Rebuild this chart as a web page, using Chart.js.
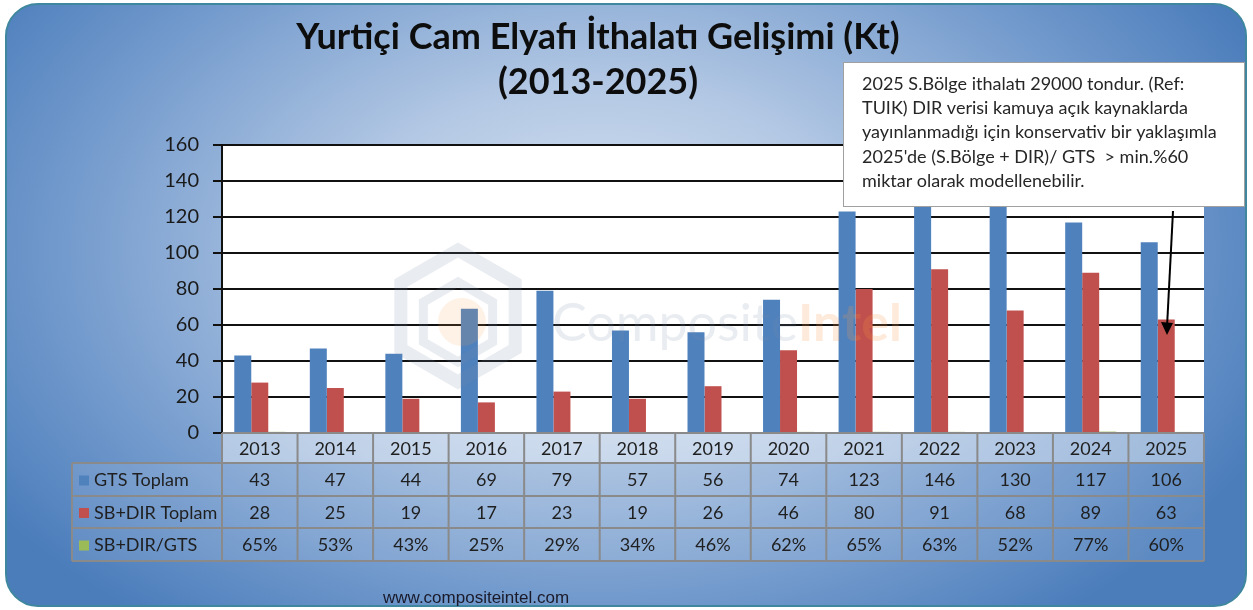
<!DOCTYPE html>
<html>
<head>
<meta charset="utf-8">
<script src="https://cdn.jsdelivr.net/npm/chart.js@4"></script>
<style>
  html, body { margin: 0; padding: 0; background: #fff; }
  canvas { display: block; }
</style>
</head>
<body>
<canvas id="chart" width="1253" height="610"></canvas>
<script>
const years = ['2013', '2014', '2015', '2016', '2017', '2018', '2019', '2020', '2021', '2022', '2023', '2024', '2025'];
const gtsTotal = [43, 47, 44, 69, 79, 57, 56, 74, 123, 146, 130, 117, 106];
const sbDirTotal = [28, 25, 19, 17, 23, 19, 26, 46, 80, 91, 68, 89, 63];
const ratioPct = [65, 53, 43, 25, 29, 34, 46, 62, 65, 63, 52, 77, 60];
const yTicks = [0, 20, 40, 60, 80, 100, 120, 140, 160];

const titleLines = ['Yurtiçi Cam Elyafı İthalatı Gelişimi (Kt)', '(2013-2025)'];
const noteLines = [
    '2025 S.Bölge ithalatı 29000 tondur. (Ref:',
    'TUIK) DIR verisi kamuya açık kaynaklarda',
    'yayınlanmadığı için konservativ bir yaklaşımla',
    "2025'de (S.Bölge + DIR)/ GTS  > min.%60",
    'miktar olarak modellenebilir.'
];
const footer = 'www.compositeintel.com';

const font = 'Lato, "Open Sans", sans-serif';
const colors = { gts: '#4f81bd', sb: '#c0504d', ratio: '#9bbb59' };

const roundRect = (c, x, y, w, h, r) => {
    c.beginPath();
    c.moveTo(x + r, y);
    c.arcTo(x + w, y, x + w, y + h, r);
    c.arcTo(x + w, y + h, x, y + h, r);
    c.arcTo(x, y + h, x, y, r);
    c.arcTo(x, y, x + w, y, r);
    c.closePath();
}

// blue panel + white plot area
const backdrop = {
    id: 'backdrop',
    beforeDraw(chart) {
        const c = chart.ctx;
        const a = chart.chartArea;
        c.save();
        roundRect(c, 6, 4, 1240, 602, 32);
        c.save();
        c.clip();
        c.translate(600, 250);
        c.scale(1.55, 1);
        const g = c.createRadialGradient(0, 0, 0, 0, 0, 470);
        g.addColorStop(0, '#d9e4f2');
        g.addColorStop(0.35, '#b3c8e4');
        g.addColorStop(0.75, '#7199cc');
        g.addColorStop(1, '#4b7dbb');
        c.fillStyle = g;
        c.fillRect(-700, -400, 1400, 800);
        c.restore();
        c.lineWidth = 2;
        c.strokeStyle = '#3f879e';
        c.stroke();
        c.fillStyle = '#fff';
        c.fillRect(a.left, a.top, a.right - a.left, a.bottom - a.top);
        c.restore();
    },
    afterDatasetsDraw(chart) {
        // faint watermark over the bars
        const c = chart.ctx;
        c.save();
        const hex = (cx, cy, r) => {
            c.beginPath();
            for (let i = 0; i < 6; i++) {
                const ang = Math.PI / 6 + i * Math.PI / 3;
                const px = cx + r * Math.cos(ang), py = cy + r * Math.sin(ang);
                i ? c.lineTo(px, py) : c.moveTo(px, py);
            }
            c.closePath();
        }
        c.strokeStyle = 'rgba(120,135,160,0.16)';
        c.lineWidth = 13;
        hex(458, 316, 66);
        c.stroke();
        c.lineWidth = 9;
        hex(458, 322, 40);
        c.stroke();
        c.fillStyle = 'rgba(250,160,80,0.14)';
        c.beginPath();
        c.arc(462, 322, 24, 0, Math.PI * 2);
        c.fill();
        c.font = `52px ${font}`;
        c.textBaseline = 'middle';
        c.fillStyle = 'rgba(120,135,160,0.16)';
        c.fillText('Composite', 552, 324);
        const w = c.measureText('Composite').width;
        c.font = `bold 52px ${font}`;
        c.fillStyle = 'rgba(250,150,70,0.2)';
        c.fillText('Intel', 552 + w, 324);
        c.restore();
    },
    afterDraw(chart) {
        const c = chart.ctx;
        const a = chart.chartArea;
        const x = chart.scales.x;
        const colW = (a.right - a.left) / years.length;
        const rows = [433, 463, 496, 528, 561];
        const tableLeft = 72;
        c.save();

        // cell shading
        c.fillStyle = 'rgba(255,255,255,0.42)';
        c.fillRect(a.left, rows[0], a.right - a.left, rows[1] - rows[0]);
        c.fillStyle = 'rgba(255,255,255,0.1)';
        c.fillRect(tableLeft, rows[1], a.right - tableLeft, rows[4] - rows[1]);

        // grid of the table
        c.strokeStyle = '#8a8a8a';
        c.lineWidth = 2;
        c.beginPath();
        for (let r = 1; r < rows.length; r++) {
            c.moveTo(tableLeft, rows[r]);
            c.lineTo(a.right, rows[r]);
        }
        c.moveTo(a.left, rows[0]);
        c.lineTo(a.right, rows[0]);
        c.moveTo(tableLeft, rows[1]);
        c.lineTo(tableLeft, rows[4]);
        for (let i = 0; i <= years.length; i++) {
            const px = a.left + i * colW;
            c.moveTo(px, rows[0]);
            c.lineTo(px, rows[4]);
        }
        c.stroke();

        // table text
        c.fillStyle = '#1f1f1f';
        c.font = `18px ${font}`;
        c.textAlign = 'center';
        c.textBaseline = 'middle';
        const table = [
            years,
            gtsTotal.map(String),
            sbDirTotal.map(String),
            ratioPct.map(v => v + '%')
        ];
        table.forEach((row, r) => {
            const cy = (rows[r] + rows[r + 1]) / 2 + 1;
            row.forEach((t, i) => c.fillText(t, x.getPixelForValue(i), cy));
        });

        // legend cells
        const legend = [
            ['GTS Toplam', colors.gts],
            ['SB+DIR Toplam', colors.sb],
            ['SB+DIR/GTS', colors.ratio]
        ];
        c.textAlign = 'left';
        c.font = `18px ${font}`;
        legend.forEach(([label, col], r) => {
            const cy = (rows[r + 1] + rows[r + 2]) / 2 + 1;
            c.fillStyle = col;
            c.fillRect(79, cy - 5, 10, 10);
            c.fillStyle = '#1f1f1f';
            c.fillText(label, 94, cy);
        });

        // title
        c.fillStyle = '#0d0d0d';
        c.textAlign = 'center';
        c.font = `bold 36px ${font}`;
        c.fillText(titleLines[0], 598, 37);
        c.fillText(titleLines[1], 598, 82);

        // note box
        c.fillStyle = '#fff';
        c.fillRect(843, 62, 402, 145);
        c.strokeStyle = '#a0a0a0';
        c.lineWidth = 1;
        c.strokeRect(843.5, 62.5, 401, 144);
        c.fillStyle = '#262626';
        c.textAlign = 'left';
        c.font = `18px ${font}`;
        noteLines.forEach((t, i) => c.fillText(t, 862, 84 + i * 24.3));

        // arrow to the 2025 SB+DIR bar
        const tipX = 1167, tipY = 335;
        c.strokeStyle = '#000';
        c.fillStyle = '#000';
        c.lineWidth = 2;
        c.beginPath();
        c.moveTo(1173, 211);
        c.lineTo(tipX, tipY - 8);
        c.stroke();
        c.beginPath();
        c.moveTo(tipX, tipY);
        c.lineTo(tipX - 6, tipY - 13);
        c.lineTo(tipX + 6, tipY - 12);
        c.closePath();
        c.fill();

        // footer
        c.fillStyle = '#1a1a2a';
        c.font = '17px "Liberation Sans", Arial, sans-serif';
        c.fillText(footer, 383, 598);
        c.restore();
    }
};

const ctx = document.getElementById('chart').getContext('2d');
const chart = new Chart(ctx, {
    type: 'bar',
    data: {
        labels: years,
        datasets: [
            { label: 'GTS Toplam', data: gtsTotal, backgroundColor: colors.gts },
            { label: 'SB+DIR Toplam', data: sbDirTotal, backgroundColor: colors.sb },
            // share plotted on the same axis, so it stays near zero
            { label: 'SB+DIR/GTS', data: ratioPct.map(v => v / 100), backgroundColor: colors.ratio }
        ]
    },
    options: {
        responsive: false,
        animation: false,
        layout: { padding: { top: 145, right: 49, left: 0, bottom: 0 } },
        datasets: { bar: { categoryPercentage: 0.675, barPercentage: 1 } },
        plugins: {
            legend: { display: false },
            tooltip: { enabled: false },
            title: { display: false }
        },
        scales: {
            x: {
                grid: { display: false },
                border: { display: false },
                ticks: { display: false },
                afterFit: (s) => { s.height = 177; }
            },
            y: {
                min: yTicks[0],
                max: yTicks[yTicks.length - 1],
                afterBuildTicks: (s) => { s.ticks = yTicks.map(v => ({ value: v })); },
                ticks: { font: { family: font, size: 20 }, color: '#1a1a1a', padding: 14 },
                grid: { color: '#111', lineWidth: 2, tickLength: 9 },
                border: { color: '#111', width: 2 },
                afterFit: (s) => { s.width = 222; }
            }
        }
    },
    plugins: [backdrop]
});
</script>
</body>
</html>
